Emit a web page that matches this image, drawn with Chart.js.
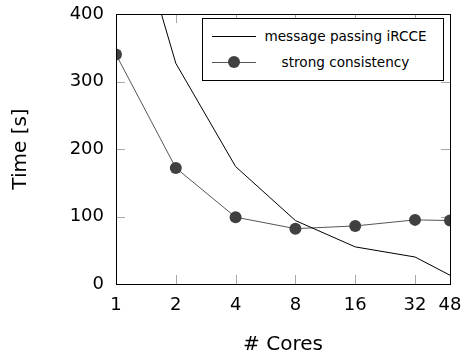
<!DOCTYPE html>
<html>
<head>
<meta charset="utf-8">
<script src="https://cdn.jsdelivr.net/npm/chart.js@4/dist/chart.umd.min.js"></script>
<style>
  html,body{margin:0;padding:0;background:#fff;}
  .wrap{position:relative;width:470px;height:358px;}
  #legend{position:absolute;left:202px;top:18px;width:242px;height:63px;border:1px solid #000;background:#fff;
    font-family:"DejaVu Sans",sans-serif;font-size:13.6px;color:#000;box-sizing:border-box;}
  #legend .row{position:absolute;left:0;right:8px;height:20px;display:flex;align-items:center;}
  #legend .smp{position:relative;width:44px;height:20px;margin-left:9px;flex:none;}
  #legend .smp .ln{position:absolute;left:0;right:0;top:9.5px;border-top:1px solid #000;}
  #legend .smp .dot{position:absolute;left:16px;top:4px;width:12px;height:12px;border-radius:50%;}
  #legend .txt{flex:1;text-align:center;white-space:nowrap;}
</style>
</head>
<body>
<div class="wrap">
  <canvas id="c" width="470" height="358"></canvas>
  <div id="legend"></div>
</div>
<script>
const cores = [1, 2, 4, 8, 16, 32, 48];
const messagePassing = [630, 327, 174, 94, 55, 40, 13];
const strongConsistency = [340, 172, 99, 82, 86, 95, 94];
const yTicks = [0, 100, 200, 300, 400];

const FONT = '"DejaVu Sans", sans-serif';
const TICKGREY = '#a8a8a8';

// pgfplots-style inner tick marks + frame
const innerTicks = {
  id: 'innerTicks',
  beforeDatasetsDraw(chart){
    const {ctx, chartArea:a, scales:{x, y}} = chart;
    const len = 9;
    ctx.save();
    ctx.strokeStyle = TICKGREY;
    ctx.lineWidth = 1;
    ctx.beginPath();
    cores.forEach(v=>{
      const px = Math.round(x.getPixelForValue(v)) + 0.5;
      ctx.moveTo(px, a.bottom); ctx.lineTo(px, a.bottom - len);
      ctx.moveTo(px, a.top); ctx.lineTo(px, a.top + len);
    });
    yTicks.forEach(v=>{
      const py = Math.round(y.getPixelForValue(v)) + 0.5;
      ctx.moveTo(a.left, py); ctx.lineTo(a.left + len, py);
      ctx.moveTo(a.right, py); ctx.lineTo(a.right - len, py);
    });
    ctx.stroke();
    ctx.restore();
  },
  afterDraw(chart){
    const {ctx, chartArea:a} = chart;
    ctx.save();
    ctx.strokeStyle = '#000';
    ctx.lineWidth = 1;
    ctx.strokeRect(Math.round(a.left)+0.5, Math.round(a.top)+0.5, Math.round(a.right-a.left), Math.round(a.bottom-a.top));
    ctx.restore();
  }
};

const chart = new Chart(document.getElementById('c'), {
  type: 'line',
  data: {
    datasets: [
      {label:'message passing iRCCE', data: cores.map((c,i)=>({x:c, y:messagePassing[i]})),
       borderColor:'#000', borderWidth:1, pointRadius:0, tension:0},
      {label:'strong consistency', data: cores.map((c,i)=>({x:c, y:strongConsistency[i]})),
       borderColor:'#555', borderWidth:1, pointRadius:6, pointBackgroundColor:'#404040', pointBorderColor:'#404040', pointBorderWidth:0, tension:0},
    ]
  },
  options: {
    responsive:false, animation:false,
    layout:{padding:{top:14, right:20, left:0, bottom:0}},
    plugins:{legend:{display:false}, tooltip:{enabled:false}},
    scales:{
      x:{
        type:'logarithmic', min:1, max:48,
        afterBuildTicks: s=>{ s.ticks = cores.map(v=>({value:v})); },
        afterFit: s=>{ s.height = 74; s.paddingLeft = 0; s.paddingRight = 0; },
        grid:{display:false, drawTicks:false},
        border:{display:false},
        ticks:{font:{family:FONT, size:18}, color:'#000', padding:11, maxRotation:0, autoSkip:false,
               callback:v=>String(v)},
        title:{display:true, text:'# Cores', font:{family:FONT, size:20}, color:'#000', padding:{top:0, bottom:1}}
      },
      y:{
        min:0, max:400,
        afterBuildTicks: s=>{ s.ticks = yTicks.map(v=>({value:v})); },
        afterFit: s=>{ s.width = 116; s.paddingTop = 0; s.paddingBottom = 0; },
        grid:{display:false, drawTicks:false},
        border:{display:false},
        ticks:{font:{family:FONT, size:18}, color:'#000', padding:12},
        title:{display:true, text:'Time [s]', font:{family:FONT, size:20}, color:'#000', padding:{top:9, bottom:0}}
      }
    }
  },
  plugins:[innerTicks]
});

// legend inside the plot, built from the datasets
const leg = document.getElementById('legend');
chart.data.datasets.forEach((ds,i)=>{
  const row = document.createElement('div');
  row.className = 'row';
  row.style.top = (7 + i*26) + 'px';
  const smp = document.createElement('div');
  smp.className = 'smp';
  const ln = document.createElement('div');
  ln.className = 'ln';
  ln.style.borderTopColor = ds.borderColor;
  smp.appendChild(ln);
  if (ds.pointRadius > 0){
    const dot = document.createElement('div');
    dot.className = 'dot';
    dot.style.background = ds.pointBackgroundColor;
    smp.appendChild(dot);
  }
  const txt = document.createElement('div');
  txt.className = 'txt';
  txt.textContent = ds.label;
  row.appendChild(smp); row.appendChild(txt);
  leg.appendChild(row);
});
</script>
</body>
</html>
